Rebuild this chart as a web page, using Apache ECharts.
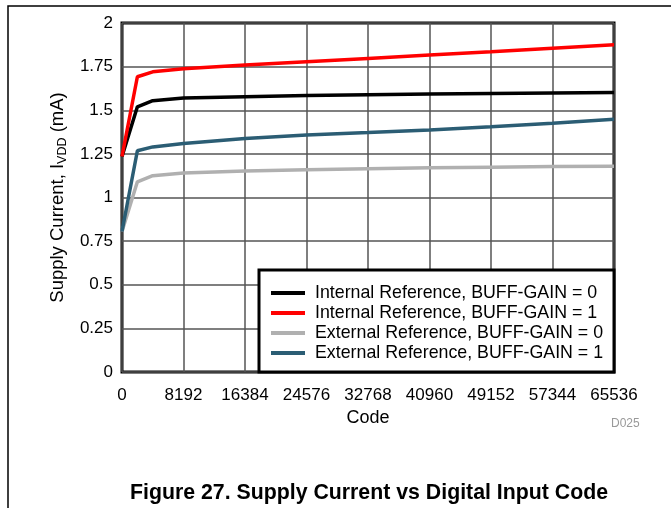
<!DOCTYPE html>
<html>
<head>
<meta charset="utf-8">
<script src="https://cdn.jsdelivr.net/npm/echarts@6/dist/echarts.min.js"></script>
<style>
  html, body { margin: 0; padding: 0; background: #fff; }
  #main { width: 671px; height: 508px; }
</style>
</head>
<body>
<div id="main"></div>
<script>
// codes (x) and supply current in mA for each curve
var codes = [0, 2048, 4096, 8192, 16384, 24576, 32768, 40960, 49152, 57344, 65536];
var intGain0 = [1.235, 1.52, 1.555, 1.57, 1.578, 1.584, 1.589, 1.593, 1.596, 1.599, 1.602];
var intGain1 = [1.235, 1.692, 1.72, 1.738, 1.759, 1.778, 1.797, 1.816, 1.835, 1.855, 1.875];
var extGain0 = [0.805, 1.09, 1.125, 1.14, 1.152, 1.159, 1.165, 1.17, 1.174, 1.177, 1.179];
var extGain1 = [0.805, 1.268, 1.29, 1.31, 1.338, 1.358, 1.372, 1.387, 1.405, 1.426, 1.448];
var seriesNames = [
  'Internal Reference, BUFF-GAIN = 0',
  'Internal Reference, BUFF-GAIN = 1',
  'External Reference, BUFF-GAIN = 0',
  'External Reference, BUFF-GAIN = 1'
];
var colors = ['#000000', '#ff0000', '#b0b0b0', '#2b5d74'];

var font = "'Liberation Sans', Arial, sans-serif";

function pairs(ys) {
  return codes.map(function (c, i) { return [c, ys[i]]; });
}

var myChart = echarts.init(document.getElementById('main'));

var allData = [intGain0, intGain1, extGain0, extGain1];
var series = allData.map(function (ys, i) {
  return {
    name: seriesNames[i],
    type: 'line',
    data: pairs(ys),
    showSymbol: false,
    symbol: 'none',
    z: 3,
    lineStyle: { color: colors[i], width: 3.5 },
    itemStyle: { color: colors[i] }
  };
});

var option = {
  animation: false,
  backgroundColor: '#fff',
  textStyle: { fontFamily: font },
  grid: {
    left: 122, right: 57, top: 23, bottom: 136,
    show: true, borderColor: '#000', borderWidth: 3, backgroundColor: 'transparent'
  },
  xAxis: {
    type: 'value',
    min: 0, max: 65536, interval: 8192,
    name: 'Code',
    nameLocation: 'middle',
    nameGap: 31,
    nameTextStyle: { fontSize: 18, color: '#000', fontFamily: font },
    axisLine: { show: false },
    axisTick: { show: false },
    axisLabel: {
      fontSize: 17, color: '#000', margin: 15, fontFamily: font,
      formatter: function (v) { return String(v); }
    },
    splitLine: { show: true, lineStyle: { color: '#555', width: 1.5 } }
  },
  yAxis: {
    type: 'value',
    min: 0, max: 2, interval: 0.25,
    name: '{a|Supply Current, I}{s|VDD}{a| (mA)}',
    nameLocation: 'middle',
    nameGap: 53,
    nameRotate: 90,
    nameTextStyle: {
      color: '#000', fontFamily: font, fontSize: 18.5,
      rich: {
        a: { fontSize: 18.5, color: '#000', fontFamily: font, lineHeight: 22 },
        s: { fontSize: 12.5, color: '#000', fontFamily: font, lineHeight: 14, verticalAlign: 'bottom' }
      }
    },
    axisLine: { show: false },
    axisTick: { show: false },
    axisLabel: { fontSize: 17, color: '#000', margin: 9, fontFamily: font },
    splitLine: { show: true, lineStyle: { color: '#555', width: 1.5 } }
  },
  legend: {
    data: seriesNames,
    orient: 'vertical',
    left: 271,
    top: 284,
    z: 100,
    itemWidth: 34,
    itemHeight: 4,
    itemGap: 2,
    icon: 'rect',
    padding: 0,
    textStyle: { fontSize: 17.8, color: '#000', fontFamily: font, padding: [0, 0, 0, 5] }
  },
  graphic: [
    {
      type: 'rect', z: 50,
      shape: { x: 259, y: 270, width: 355, height: 102 },
      style: { fill: '#fff', stroke: '#000', lineWidth: 3 }
    },
    {
      type: 'polyline', z: 50,
      shape: { points: [[8, 508], [8, 6], [671, 6]] },
      style: { fill: null, stroke: '#000', lineWidth: 1.5 }
    },
    {
      type: 'text', z: 50, x: 611, y: 418,
      style: { text: 'D025', fontSize: 12, fill: '#999', fontFamily: font }
    },
    {
      type: 'text', z: 50, x: 369, y: 493,
      style: {
        text: 'Figure 27. Supply Current vs Digital Input Code',
        fontSize: 21.3, fontWeight: 'bold', fill: '#000', fontFamily: font,
        textAlign: 'center', textVerticalAlign: 'middle'
      }
    }
  ],
  series: series
};

myChart.setOption(option);
</script>
</body>
</html>
